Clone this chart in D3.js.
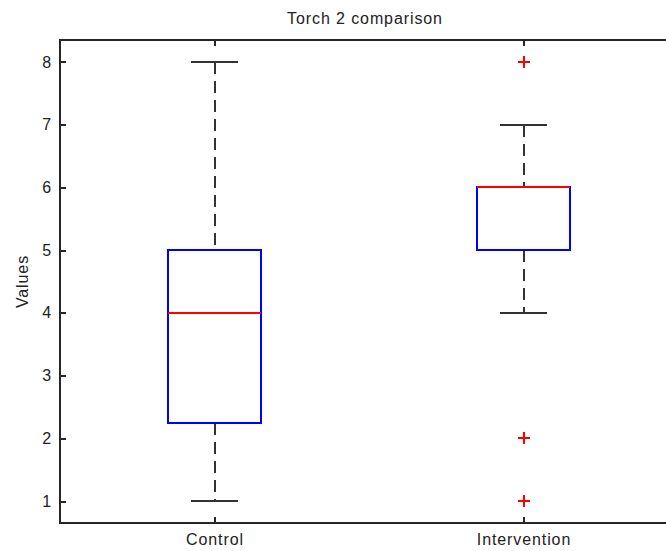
<!DOCTYPE html>
<html>
<head>
<meta charset="utf-8">
<script src="https://cdn.jsdelivr.net/npm/d3@7"></script>
<style>
  body { margin: 0; background: #fff; }
  text { font-family: "Liberation Sans", Arial, sans-serif; fill: #222; }
</style>
</head>
<body>
<div id="chart"></div>
<script>
const categories = ['Control', 'Intervention'];
const lowerWhisker = [1, 4];
const q1 = [2.25, 5];
const median = [4, 6];
const q3 = [5, 6];
const upperWhisker = [8, 7];
const outliers = [[], [8, 2, 1]];
const yTicks = [1, 2, 3, 4, 5, 6, 7, 8];

const width = 666;
const height = 551;
const margin = {left: 60, top: 40, right: -12, bottom: 28};
const axisColor = '#262626';
const boxColor = '#0000ff';
const medianColor = '#ff0000';
const whiskerColor = '#333333';
const fontSize = '16px';
const letterSpacing = '0.9px';

const svg = d3.select('#chart')
  .append('svg')
  .attr('width', width)
  .attr('height', height);

const plotW = width - margin.left - margin.right;
const plotH = height - margin.top - margin.bottom;

const xScale = d3.scaleLinear()
  .domain([0.5, 2.5])
  .range([margin.left, margin.left + plotW]);

const yScale = d3.scaleLinear()
  .domain([0.65, 8.35])
  .range([margin.top + plotH, margin.top]);

const boxHalf = 0.15;
const capHalf = 0.075;

const g = svg.append('g').attr('shape-rendering', 'crispEdges');

categories.forEach((name, i) => {
  const cx = xScale(i + 1);
  const x0 = xScale(i + 1 - boxHalf);
  const x1 = xScale(i + 1 + boxHalf);

  // whiskers
  [[q3[i], upperWhisker[i]], [lowerWhisker[i], q1[i]]].forEach(([a, b]) => {
    g.append('line')
      .attr('x1', cx).attr('x2', cx)
      .attr('y1', yScale(b)).attr('y2', yScale(a))
      .attr('stroke', whiskerColor)
      .attr('stroke-width', 2)
      .attr('stroke-dasharray', '12, 7');
  });

  // caps
  [lowerWhisker[i], upperWhisker[i]].forEach(v => {
    g.append('line')
      .attr('x1', xScale(i + 1 - capHalf)).attr('x2', xScale(i + 1 + capHalf))
      .attr('y1', yScale(v)).attr('y2', yScale(v))
      .attr('stroke', whiskerColor)
      .attr('stroke-width', 2);
  });

  // box
  g.append('rect')
    .attr('x', x0)
    .attr('y', yScale(q3[i]))
    .attr('width', x1 - x0)
    .attr('height', yScale(q1[i]) - yScale(q3[i]))
    .attr('fill', 'none')
    .attr('stroke', boxColor)
    .attr('stroke-width', 2);

  // median
  g.append('line')
    .attr('x1', x0).attr('x2', x1)
    .attr('y1', yScale(median[i])).attr('y2', yScale(median[i]))
    .attr('stroke', medianColor)
    .attr('stroke-width', 2);

  // outliers
  outliers[i].forEach(v => {
    const oy = yScale(v);
    g.append('path')
      .attr('d', `M${cx - 6},${oy}H${cx + 6}M${cx},${oy - 6}V${oy + 6}`)
      .attr('stroke', medianColor)
      .attr('stroke-width', 2)
      .attr('fill', 'none');
  });
});

// axes (ticks point inward, MATLAB style)
const plotLeft = margin.left;
const plotRight = margin.left + plotW;
const plotTop = margin.top;
const plotBottom = margin.top + plotH;

const yAxis = svg.append('g')
  .attr('transform', `translate(${plotLeft},0)`)
  .call(d3.axisLeft(yScale).tickValues(yTicks).tickSize(-6).tickPadding(8).tickFormat(d3.format('d')));

const xAxis = svg.append('g')
  .attr('transform', `translate(0,${plotBottom})`)
  .call(d3.axisBottom(xScale).tickValues([1, 2]).tickSize(-6).tickPadding(11)
    .tickFormat(d => categories[d - 1]));

const xTop = svg.append('g')
  .attr('transform', `translate(0,${plotTop})`)
  .call(d3.axisTop(xScale).tickValues([1, 2]).tickSize(-6).tickFormat(''));

[yAxis, xAxis, xTop].forEach(a => {
  a.select('.domain').remove();
  a.selectAll('line').attr('stroke', axisColor).attr('stroke-width', 2)
    .attr('shape-rendering', 'crispEdges');
  a.selectAll('text')
    .attr('fill', '#222')
    .style('font-size', fontSize)
    .style('font-family', '"Liberation Sans", Arial, sans-serif')
    .style('letter-spacing', letterSpacing);
});

// frame lines (right edge falls outside the window)
svg.append('path')
  .attr('d', `M${plotRight},${plotTop}H${plotLeft}V${plotBottom}H${plotRight}`)
  .attr('fill', 'none')
  .attr('stroke', axisColor)
  .attr('stroke-width', 2)
  .attr('shape-rendering', 'crispEdges');

svg.append('text')
  .attr('x', (plotLeft + plotRight) / 2 - 4)
  .attr('y', 24)
  .attr('text-anchor', 'middle')
  .style('font-size', fontSize)
  .style('letter-spacing', letterSpacing)
  .text('Torch 2 comparison');

svg.append('text')
  .attr('transform', `translate(28,${(plotTop + plotBottom) / 2}) rotate(-90)`)
  .attr('text-anchor', 'middle')
  .style('font-size', fontSize)
  .style('letter-spacing', letterSpacing)
  .text('Values');
</script>
</body>
</html>
